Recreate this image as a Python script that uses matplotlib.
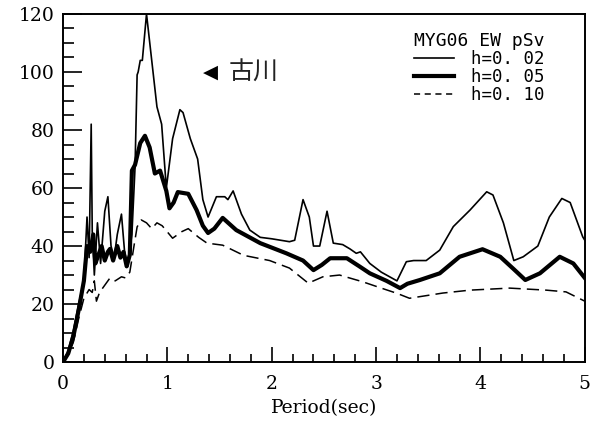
import matplotlib
matplotlib.use('Agg')
import matplotlib.pyplot as plt
from matplotlib.ticker import MultipleLocator
from matplotlib.lines import Line2D

# h=0.02 (thin line)
x_h02 = [0, 0.05, 0.1, 0.15, 0.2, 0.23, 0.25, 0.27, 0.28, 0.30, 0.33, 0.36, 0.40, 0.43, 0.46,
         0.49, 0.52, 0.56, 0.59, 0.62, 0.66, 0.69, 0.71, 0.72, 0.74, 0.76, 0.80, 0.85, 0.90,
         0.945, 0.99, 1.05, 1.12, 1.15, 1.22, 1.29, 1.34, 1.39, 1.47, 1.55, 1.58, 1.63, 1.71,
         1.79, 1.89, 2.0, 2.17, 2.22, 2.30, 2.36, 2.40, 2.46, 2.53, 2.59, 2.68, 2.75, 2.81,
         2.85, 2.94, 3.05, 3.20, 3.29, 3.36, 3.48, 3.61, 3.74, 3.90, 4.06, 4.12, 4.22, 4.32,
         4.41, 4.55, 4.66, 4.78, 4.86, 4.98, 5.0]
y_h02 = [0, 4, 11, 20, 28, 50, 36, 82, 45, 30, 48, 34, 52, 57, 40,
         36, 44, 51, 38, 33, 44, 67, 99, 100, 104, 104, 120, 104, 88,
         82, 60, 77, 87, 86, 77, 70, 56, 50, 57, 57, 56, 59, 51,
         45.5, 43, 42.5, 41.5, 42, 56, 50, 40, 40, 52, 41, 40.5, 39, 37.5,
         38, 34, 31, 28, 34.6, 35, 35, 38.6, 46.7, 52.4, 58.7, 57.6, 48, 35,
         36.3, 40, 50, 56.4, 55, 43.2, 42]

# h=0.05 (thick line)
x_h05 = [0, 0.05, 0.1, 0.15, 0.2, 0.23, 0.26, 0.29, 0.31, 0.34, 0.37, 0.40, 0.43, 0.45, 0.48,
         0.52, 0.55, 0.58, 0.61, 0.64, 0.66, 0.69, 0.74, 0.785, 0.83, 0.88, 0.93, 0.99, 1.02,
         1.06, 1.10, 1.20, 1.28, 1.34, 1.39, 1.45, 1.53, 1.66, 1.89, 2.14, 2.30, 2.40, 2.48,
         2.56, 2.72, 2.84, 2.94, 3.10, 3.23, 3.30, 3.42, 3.61, 3.80, 4.02, 4.19, 4.32, 4.43,
         4.57, 4.76, 4.89, 5.0]
y_h05 = [0, 3, 9, 18, 28, 40, 38, 44, 34, 37, 40, 35, 38, 39, 35,
         40, 36, 38, 33, 37, 66, 68, 75.5, 78, 74, 65, 66, 59, 53,
         55, 58.6, 58, 52.4, 47, 44.5, 46, 49.7, 45.5, 41, 37.5, 35, 31.7, 33.5,
         35.8, 35.8, 33, 30.6, 28, 25.5, 27, 28.3, 30.6, 36.3, 38.9, 36.3, 32, 28.3,
         30.6, 36.3, 34, 29]

# h=0.10 (dashed line)
x_h10 = [0, 0.05, 0.1, 0.15, 0.2, 0.25, 0.28, 0.30, 0.32, 0.35, 0.37, 0.41, 0.45, 0.50, 0.56,
         0.60, 0.64, 0.68, 0.71, 0.75, 0.80, 0.85, 0.90, 0.95, 1.05, 1.14, 1.20, 1.30, 1.38,
         1.53, 1.73, 1.98, 2.17, 2.35, 2.49, 2.65, 2.87, 3.05, 3.20, 3.32, 3.64, 3.90, 4.28,
         4.63, 4.82, 5.0]
y_h10 = [0, 2.5, 7, 15, 22, 25, 24, 28, 21, 24, 25, 27, 29, 28, 29.4,
         29, 31, 40, 46.6, 49, 48, 46, 48, 47, 42.7, 45, 46, 43, 41,
         40.3, 36.8, 35, 32.4, 27.2, 29.4, 30, 27.7, 25.5, 23.7, 22, 23.8, 24.8, 25.5,
         24.8, 24.2, 21]

labels = ['h=0. 02', 'h=0. 05', 'h=0. 10']

serif = 'DejaVu Serif'
mono = 'DejaVu Sans Mono'
gothic = ['Noto Sans CJK JP', 'DejaVu Sans']

fig = plt.figure(figsize=(6.06, 4.23), dpi=100)
ax = fig.add_axes([0.104, 0.144, 0.861, 0.823])

ax.plot(x_h02, y_h02, color='black', lw=1.2)
ax.plot(x_h05, y_h05, color='black', lw=3.0)
ax.plot(x_h10, y_h10, color='black', lw=1.1, dashes=(8, 4))

ax.set_xlim(0, 5)
ax.set_ylim(0, 120)
ax.xaxis.set_major_locator(MultipleLocator(1))
ax.xaxis.set_minor_locator(MultipleLocator(0.2))
ax.yaxis.set_major_locator(MultipleLocator(20))
ax.yaxis.set_minor_locator(MultipleLocator(5))
ax.tick_params(axis='x', which='major', direction='in', length=11, width=1.2, pad=9)
ax.tick_params(axis='x', which='minor', direction='in', length=6, width=1.2)
ax.tick_params(axis='y', which='major', direction='in', length=14, width=1.2, pad=6)
ax.tick_params(axis='y', which='minor', direction='in', length=8, width=1.2)
for lab in ax.get_xticklabels() + ax.get_yticklabels():
    lab.set_fontfamily(serif)
    lab.set_fontsize(13.5)
for s in ax.spines.values():
    s.set_linewidth(1.4)

ax.set_xlabel('Period(sec)', fontfamily=serif, fontsize=13.5, labelpad=5)

handles = [Line2D([], [], color='black', lw=1.2),
           Line2D([], [], color='black', lw=3.0),
           Line2D([], [], color='black', lw=1.1, dashes=(4, 3))]
leg = ax.legend(handles, labels, title='MYG06 EW pSv', loc='upper left',
                bbox_to_anchor=(0.672, 0.948), borderpad=0,
                frameon=False, handlelength=2.3, handletextpad=1.0,
                labelspacing=0.0, borderaxespad=0,
                prop={'family': mono, 'size': 12.5},
                title_fontproperties={'family': mono, 'size': 13})
leg._legend_box.align = 'left'

ax.text(1.41, 100, '◀', fontsize=14, ha='center', va='center', family='DejaVu Sans')
ax.text(1.59, 100, '古川', fontsize=18, ha='left', va='center', family=gothic, color='#222222')

fig.savefig('out.png', dpi=100)
